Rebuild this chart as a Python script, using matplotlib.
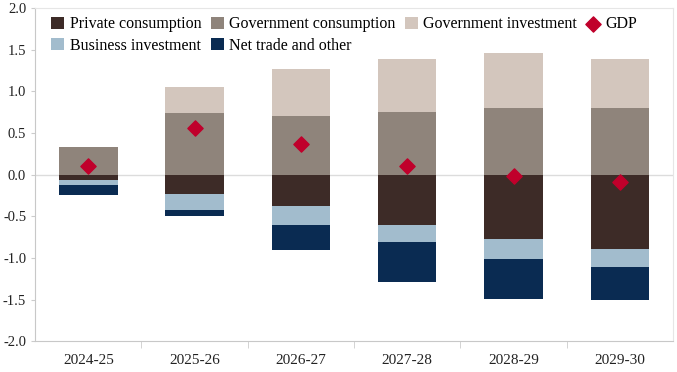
import matplotlib.pyplot as plt
import numpy as np

years = ["2024-25", "2025-26", "2026-27", "2027-28", "2028-29", "2029-30"]
private_consumption = [-0.07, -0.23, -0.38, -0.60, -0.77, -0.89]
business_investment = [-0.05, -0.20, -0.22, -0.21, -0.24, -0.22]
net_trade = [-0.12, -0.07, -0.30, -0.48, -0.48, -0.39]
gov_consumption = [0.33, 0.74, 0.71, 0.75, 0.80, 0.80]
gov_investment = [0.00, 0.31, 0.56, 0.64, 0.66, 0.59]
gdp = [0.10, 0.56, 0.37, 0.10, -0.02, -0.09]

C_PRIV = "#3d2b27"
C_GOVC = "#8f847b"
C_GOVI = "#d3c6bd"
C_BUS = "#a2bccd"
C_NET = "#0a2b52"
C_GDP = "#c0002b"

plt.rcParams["font.family"] = ["Liberation Serif", "DejaVu Serif"]

fig = plt.figure(figsize=(6.77, 3.72), dpi=100)
ax = fig.add_axes([0.052, 0.083, 0.942, 0.895])

x = np.arange(len(years))
w = 0.55

neg1 = np.array(private_consumption)
neg2 = neg1 + np.array(business_investment)
pos1 = np.array(gov_consumption)

ax.axhline(0, color="#dcdcdc", lw=1, zorder=1)

h_priv = ax.bar(x, private_consumption, w, color=C_PRIV, label="Private consumption", zorder=2)
h_bus = ax.bar(x, business_investment, w, bottom=neg1, color=C_BUS, label="Business investment", zorder=2)
h_net = ax.bar(x, net_trade, w, bottom=neg2, color=C_NET, label="Net trade and other", zorder=2)
h_govc = ax.bar(x, gov_consumption, w, color=C_GOVC, label="Government consumption", zorder=2)
h_govi = ax.bar(x, gov_investment, w, bottom=pos1, color=C_GOVI, label="Government investment", zorder=2)
h_gdp = ax.scatter(x, gdp, marker="D", s=60, color=C_GDP, label="GDP", zorder=3)

ax.set_xlim(-0.5, 5.5)
ax.set_ylim(-2.0, 2.0)
ax.set_yticks(np.arange(-2.0, 2.01, 0.5))
ax.set_yticklabels([f"{v:.1f}" for v in np.arange(-2.0, 2.01, 0.5)])
ax.set_xticks(x)
ax.set_xticklabels(years)
ax.set_xticks(np.arange(0.5, 5.5, 1), minor=True)
ax.tick_params(axis="x", which="major", length=0, pad=9, labelsize=11, colors="#222222")
ax.tick_params(axis="x", which="minor", length=5, color="#cccccc")
ax.tick_params(axis="y", length=3, color="#cccccc", labelsize=10.5, colors="#222222")

for side in ["left", "bottom"]:
    ax.spines[side].set_color("#c8c8c8")
for side in ["top", "right"]:
    ax.spines[side].set_color("#e6e6e6")

handles = [h_priv, h_bus, h_govc, h_net, h_govi, h_gdp]
ax.legend(handles=handles, loc="upper left", ncol=4, frameon=False, fontsize=11.5,
          handlelength=0.8, handleheight=0.8, handletextpad=0.35, columnspacing=0.6,
          labelspacing=0.35, borderaxespad=0.1, bbox_to_anchor=(0.0125, 1.0))

fig.savefig("out.png", dpi=100)
